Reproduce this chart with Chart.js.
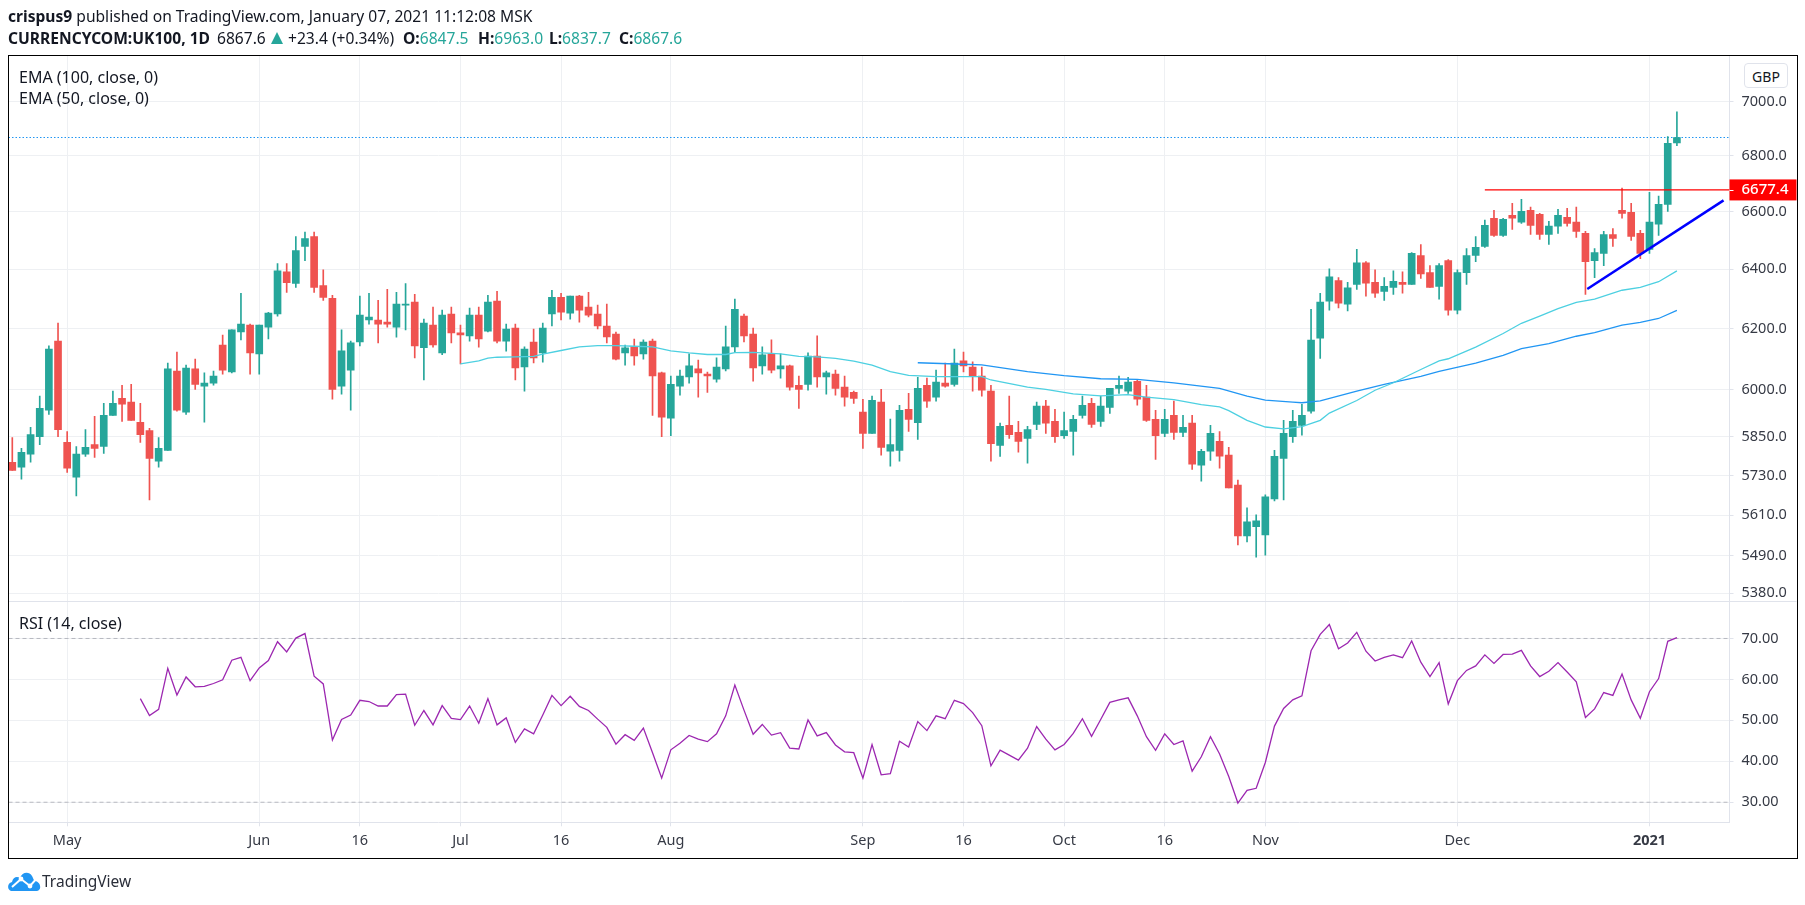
<!DOCTYPE html>
<html>
<head>
<meta charset="utf-8">
<title>UK100</title>
<script src="https://cdn.jsdelivr.net/npm/chart.js@4"></script>
<style>
    html, body { margin: 0; padding: 0; background: #fff; }
    body { width: 1805px; height: 905px; position: relative; overflow: hidden; font-family: "Noto Sans", sans-serif; color: #131722; }
    canvas { position: absolute; left: 0; top: 0; }
    .txt { position: absolute; white-space: nowrap; line-height: 20px; font-size: 15.6px; }
    .leg { font-size: 16px; }
    .b { font-weight: bold; }
    .teal { color: #26a69a; }
    #frame { position: absolute; left: 8px; top: 55px; width: 1788px; height: 802px; border: 1.5px solid #000; box-sizing: content-box; pointer-events: none; }
    #gbp { position: absolute; left: 1744px; top: 63px; width: 44px; height: 25px; line-height: 25px; text-align: center; border: 1px solid #e0e3eb; border-radius: 4px; box-sizing: border-box; font-size: 14px; background: #fff; }
    #tri { position: absolute; left: 271px; top: 32px; width: 0; height: 0; border-left: 6.5px solid transparent; border-right: 6.5px solid transparent; border-bottom: 12px solid #26a69a; }
</style>
</head>
<body>
<canvas id="chart" width="1805" height="905"></canvas>
<div id="frame"></div>

<div class="txt" style="left:8px;top:6px"><span class="b">crispus9</span> published on TradingView.com, January 07, 2021 11:12:08 MSK</div>
<div class="txt b" style="left:8px;top:28px">CURRENCYCOM:UK100, 1D</div>
<div class="txt" style="left:217px;top:28px">6867.6</div>
<div id="tri"></div>
<div class="txt" style="left:288px;top:28px">+23.4 (+0.34%)</div>
<div class="txt" style="left:403px;top:28px"><span class="b">O:</span><span class="teal">6847.5</span></div>
<div class="txt" style="left:478px;top:28px"><span class="b">H:</span><span class="teal">6963.0</span></div>
<div class="txt" style="left:549px;top:28px"><span class="b">L:</span><span class="teal">6837.7</span></div>
<div class="txt" style="left:619px;top:28px"><span class="b">C:</span><span class="teal">6867.6</span></div>

<div class="txt leg" style="left:19px;top:67px">EMA (100, close, 0)</div>
<div class="txt leg" style="left:19px;top:88px">EMA (50, close, 0)</div>
<div class="txt leg" style="left:19px;top:613px">RSI (14, close)</div>
<div id="gbp">GBP</div>

<svg style="position:absolute;left:8px;top:871px" width="33" height="20" viewBox="0 0 33 20">
    <path d="M3 20 C-1 19 -1 12 4 11 C5 6 9 5 12 7 C14 1 21 0 24 5 C26 9 26 10 27 10 C33 11 34 19 29 20 Z" fill="#2196f3"/>
    <polyline points="4,16 13,8 22,15 30,6" fill="none" stroke="#fff" stroke-width="2"/>
    <circle cx="13" cy="8" r="2.4" fill="#fff"/><circle cx="22" cy="15" r="2.4" fill="#fff"/>
</svg>
<div class="txt" style="left:42px;top:871px;font-size:15.5px;color:#2a2e39">TradingView</div>

<script>
const opens = [5771,5756,5796,5851,5934,6158,5833,5725,5796,5826,
    5820,5918,5972,5960,5896,5870,5774,5808,6060,5928,
    6067,6011,6021,6145,6057,6188,6211,6116,6204,6248,
    6391,6351,6478,6513,6344,6301,6011,6063,6155,6228,
    6228,6221,6204,6278,6288,6136,6211,6119,6248,6185,
    6175,6244,6191,6291,6158,6201,6073,6155,6119,6248,
    6304,6251,6308,6271,6248,6208,6181,6119,6139,6116,
    6158,6054,5909,6011,6041,6067,6050,6034,6067,6139,
    6241,6181,6077,6116,6067,6077,6014,6017,6109,6041,
    6050,6008,5991,5928,5861,5960,5805,5808,5937,5895,
    6014,5976,6021,6017,6093,6073,6044,5995,5823,5886,
    5864,5845,5889,5947,5899,5854,5867,5918,5956,5899,
    5943,6004,5995,6027,5976,5905,5861,5918,5864,5893,
    5762,5805,5836,5793,5701,5548,5575,5551,5659,5783,
    5851,5886,5931,6168,6291,6361,6281,6348,6422,6355,
    6324,6338,6355,6348,6447,6388,6341,6429,6261,6388,
    6447,6478,6577,6517,6587,6563,6605,6591,6520,6549,
    6580,6563,6524,6429,6454,6520,6605,6598,6524,6468,
    6556,6626,6847.5];
const closes = [5746,5802,5857,5940,6132,5873,5753,5796,5817,5814,
    5918,5956,5953,5902,5857,5783,5814,6067,5934,6070,
    6017,6021,6044,6063,6195,6214,6119,6211,6251,6394,
    6354,6464,6506,6338,6304,6001,6126,6152,6244,6238,
    6214,6214,6281,6281,6142,6218,6145,6244,6185,6178,
    6244,6165,6288,6158,6198,6070,6132,6103,6201,6304,
    6254,6308,6261,6244,6208,6172,6099,6136,6109,6155,
    6044,5912,6017,6044,6077,6054,6044,6073,6139,6264,
    6175,6070,6113,6063,6077,6008,6001,6109,6041,6054,
    6004,5976,5972,5861,5966,5817,5826,5934,5905,6004,
    5963,6024,6011,6086,6077,6044,5998,5829,5883,5857,
    5836,5873,5947,5893,5851,5870,5905,5950,5889,5947,
    6004,6014,6024,5969,5902,5854,5905,5864,5880,5765,
    5805,5861,5790,5692,5548,5590,5593,5665,5789,5861,
    5899,5918,6161,6288,6374,6284,6336,6422,6352,6318,
    6341,6358,6348,6454,6384,6338,6412,6261,6388,6447,
    6475,6552,6517,6573,6577,6601,6552,6520,6549,6587,
    6559,6531,6426,6457,6520,6506,6594,6513,6454,6563,
    6626,6846,6867.6];
const highs = [5848,5814,5880,5979,6142,6218,5867,5820,5873,5915,
    5956,5995,6014,6017,5956,5877,5848,6086,6122,6079,
    6099,6054,6060,6178,6195,6318,6214,6211,6254,6419,
    6419,6513,6528,6528,6398,6311,6195,6158,6308,6318,
    6294,6331,6321,6351,6314,6231,6271,6261,6271,6211,
    6268,6271,6311,6324,6214,6214,6139,6198,6218,6328,
    6318,6308,6311,6321,6278,6281,6188,6145,6165,6162,
    6165,6057,6044,6063,6116,6096,6057,6103,6208,6298,
    6248,6201,6139,6162,6116,6079,6044,6119,6175,6060,
    6063,6044,5995,5969,5979,6001,5906,5950,5988,6040,
    6037,6063,6086,6132,6122,6090,6073,6014,5893,5979,
    5899,5883,5960,5966,5937,5928,5918,5979,5972,5979,
    6004,6044,6040,6030,6014,5934,5937,5963,5918,5918,
    5811,5886,5867,5817,5716,5632,5611,5671,5808,5902,
    5934,5953,6264,6318,6401,6371,6355,6468,6426,6398,
    6371,6394,6391,6457,6485,6412,6419,6433,6398,6471,
    6513,6570,6605,6577,6630,6644,6616,6594,6566,6608,
    6612,6616,6531,6471,6531,6541,6684,6630,6534,6669,
    6655,6871,6963];
const lows = [5746,5719,5771,5826,5921,5851,5740,5668,5789,5786,
    5798,5918,5899,5902,5833,5656,5756,5808,5931,5921,
    6001,5896,6014,6050,6054,6162,6050,6050,6165,6241,
    6321,6338,6429,6321,6294,5969,5985,5934,6142,6214,
    6152,6204,6171,6195,6103,6031,6138,6113,6152,6083,
    6158,6138,6188,6152,6125,6031,5995,6086,6089,6208,
    6228,6231,6221,6238,6198,6152,6096,6079,6079,6099,
    5918,5851,5854,5982,6021,5976,5991,6024,6060,6122,
    6155,6027,6050,6054,6037,5998,5940,5998,6008,5985,
    5982,5947,5956,5814,5861,5793,5759,5774,5867,5842,
    5943,5963,6008,6011,6057,5995,5979,5774,5789,5845,
    5802,5768,5873,5861,5833,5845,5793,5909,5880,5883,
    5924,5988,5988,5950,5899,5780,5851,5842,5851,5749,
    5713,5777,5753,5692,5521,5530,5485,5491,5653,5656,
    5833,5855,5925,6101,6261,6268,6258,6331,6308,6304,
    6294,6314,6318,6348,6368,6338,6298,6244,6248,6348,
    6426,6475,6513,6513,6538,6559,6520,6503,6485,6524,
    6549,6510,6314,6371,6412,6478,6577,6499,6436,6454,
    6517,6601,6837.7];

// ema values were read every few bars, so they carry their own bar numbers
const ema50Bars = [49,51,52,53,55,57,58,60,62,64,66,68,70,72,74,76,78,79,81,84,86,88,90,92,94,96,98,101,104,106,107,111,113,116,119,122,124,127,130,132,133,135,137,139,141,143,144,147,149,151,154,156,157,160,163,165,167,169,171,173,176,178,180,182];
const ema50Values = [6083,6093,6102,6105,6106,6108,6115,6127,6139,6143,6143,6141,6139,6126,6119,6114,6114,6120,6121,6116,6108,6106,6101,6092,6079,6058,6046,6042,6042,6042,6031,6008,6001,5986,5980,5984,5976,5968,5952,5945,5933,5902,5881,5875,5882,5902,5925,5965,5998,6022,6065,6093,6100,6138,6183,6217,6241,6266,6287,6298,6328,6338,6357,6394];
const ema100Bars = [99,104,106,111,115,119,123,127,132,135,137,140,141,143,147,150,152,154,156,160,163,165,168,171,173,176,178,180,182];
const ema100Values = [6087,6082,6080,6058,6045,6035,6033,6022,6004,5979,5966,5960,5958,5964,5995,6017,6030,6043,6059,6086,6111,6133,6150,6174,6186,6211,6220,6233,6260];

const rsiStart = 14;
const rsiValues = [55.3,51.2,52.7,62.7,56.2,60.6,58.2,58.3,59,59.9,
    64.7,65.4,59.7,62.8,64.6,69.2,66.7,70.1,71.2,60.8,
    58.9,45.2,50.2,51.3,54.9,54.6,53.5,53.5,56.3,56.4,
    48.8,52.4,48.9,53.6,50.5,50.2,53.5,49.3,55.3,48.9,
    50.6,44.6,47.9,46.7,51.3,56.1,53.6,55.9,53.4,52.4,
    50.3,48.3,44.2,46.5,45.1,48.1,42.1,35.9,42.8,44.4,
    46.3,45.4,44.8,46.7,51.1,58.6,52.5,46.6,49,46.4,
    47,43.2,43,50.1,46.2,47,44,42.3,42.1,35.9,
    44.1,36.7,37,44.9,43.5,49.7,47.5,51.1,50.4,54.9,
    54.1,51.9,48.7,38.9,42.7,41.5,40.3,43.2,48.5,45.4,
    42.8,44.1,46.8,50.4,46.1,50.2,54.4,55,55.5,51.1,
    46,42.7,46.7,44.1,45,37.6,41.1,46,41.8,36.3,
    29.8,32.9,33.4,39.7,48.6,52.9,55,56,67,71,
    73.4,67.5,68.9,71.5,66.9,64.5,65.4,66,65.3,69.4,
    64.2,60.7,64.1,54,59.7,62.2,63.3,66,63.9,66.1,
    66.2,67.1,63.3,60.7,62,64.1,61.8,59.4,50.7,52.8,
    56.8,56.1,61.3,55,50.5,57,60.2,69.3,70.2];

const priceTicks = [5380,5490,5610,5730,5850,6000,6200,6400,6600,6800,7000];
const rsiTicks = [30,40,50,60,70];
const timeTickBars = [6,27,38,49,60,72,93,104,115,126,137,158,179];
const timeTickLabels = ["May","Jun","16","Jul","16","Aug","Sep","16","Oct","16","Nov","Dec","2021"];

const lastPrice = 6867.6;
const resistancePrice = 6677.4;
const resistanceBars = [161,187.75];
const trendBars = [172.2,187.1];
const trendPrices = [6332,6640];
const rsiBands = [70,30];

const UP = "#26a69a";
const DOWN = "#ef5350";
const GRID = "#eef0f3";
const AXIS = "#e0e3eb";
const FONT = '"Noto Sans", sans-serif';
const xMin = -0.415;
const xMax = 187.75;

const colors = opens.map((o, i) => closes[i] >= o ? UP : DOWN);
const toPoints = (xs, ys) => xs.map((x, i) => ({ x: x, y: ys[i] }));
const hLine = (v, label, axis, color, dash, order) => ({
    type: "line", label: label, yAxisID: axis,
    data: [{ x: xMin, y: v }, { x: xMax, y: v }],
    borderColor: color, borderWidth: 1, borderDash: dash, pointRadius: 0, order: order
});

// the red price tag and the line between the two panes
const extras = {
    id: "extras",
    afterDraw(chart) {
        const ctx = chart.ctx;
        const y = chart.scales.y;
        const rsi = chart.scales.rsi;
        ctx.save();
        ctx.strokeStyle = AXIS;
        ctx.lineWidth = 1;
        ctx.beginPath();
        ctx.moveTo(chart.chartArea.left, Math.round(rsi.top) + 0.5);
        ctx.lineTo(chart.chartArea.right + 67, Math.round(rsi.top) + 0.5);
        ctx.stroke();

        const py = y.getPixelForValue(resistancePrice);
        ctx.fillStyle = "#ff0000";
        ctx.fillRect(chart.chartArea.right, py - 10.5, 67, 21);
        ctx.fillStyle = "#fff";
        ctx.fillRect(chart.chartArea.right, Math.round(py), 4, 1);
        ctx.font = "500 15px " + FONT;
        ctx.textBaseline = "middle";
        ctx.fillText(resistancePrice.toFixed(1), chart.chartArea.right + 12, py);
        ctx.restore();
    }
};

new Chart(document.getElementById("chart"), {
    type: "bar",
    data: {
        datasets: [
            { label: "wicks", data: opens.map((o, i) => ({ x: i, y: [lows[i], highs[i]] })), backgroundColor: colors,
              barThickness: 1, grouped: false, order: 5 },
            { label: "bodies", data: opens.map((o, i) => ({ x: i, y: [o, closes[i]] })), backgroundColor: colors,
              barThickness: 7, grouped: false, order: 4 },
            hLine(lastPrice, "last", "y", "#2196f3", [1.5, 2], 6),
            { type: "line", label: "EMA 50", data: toPoints(ema50Bars, ema50Values), borderColor: "#4dd0e1", borderWidth: 1.3, pointRadius: 0, order: 3 },
            { type: "line", label: "EMA 100", data: toPoints(ema100Bars, ema100Values), borderColor: "#2196f3", borderWidth: 1.3, pointRadius: 0, order: 3 },
            { type: "line", label: "resistance", data: resistanceBars.map(x => ({ x: x, y: resistancePrice })), borderColor: "#ff0000", borderWidth: 1.3, pointRadius: 0, order: 2 },
            { type: "line", label: "trend", data: toPoints(trendBars, trendPrices), borderColor: "#0000ff", borderWidth: 2.5, pointRadius: 0, order: 1 },
            hLine(rsiBands[0], "band 70", "rsi", "#b7b9c0", [4, 3], 3),
            hLine(rsiBands[1], "band 30", "rsi", "#b7b9c0", [4, 3], 3),
            { type: "line", label: "RSI", yAxisID: "rsi", data: rsiValues.map((v, i) => ({ x: rsiStart + i, y: v })), borderColor: "#9c27b0", borderWidth: 1.3, pointRadius: 0, order: 1 }
        ]
    },
    options: {
        responsive: false,
        animation: false,
        devicePixelRatio: 1,
        layout: { padding: { left: 8.5, top: 55.5, right: 8, bottom: 47 } },
        plugins: { legend: { display: false }, title: { display: false }, tooltip: { enabled: false } },
        scales: {
            x: {
                type: "linear", min: xMin, max: xMax, offset: false,
                afterBuildTicks: (s) => { s.ticks = timeTickBars.map(v => ({ value: v })); },
                afterFit: (s) => { s.height = 35.7; },
                grid: { color: GRID, tickLength: 4, tickColor: AXIS, offset: false },
                border: { display: true, color: AXIS },
                ticks: {
                    autoSkip: false, maxRotation: 0, padding: 6, color: "#363a45",
                    font: (c) => ({ family: FONT, size: 14.5, weight: c.tick && c.tick.value === 179 ? "bold" : "normal" }),
                    callback: (v, i) => timeTickLabels[i]
                }
            },
            y: {
                type: "logarithmic", position: "right", stack: "panes", stackWeight: 545.5, weight: 0,
                min: 5357, max: 7176,
                afterBuildTicks: (s) => { s.ticks = priceTicks.map(v => ({ value: v })); },
                afterFit: (s) => { s.width = 67.5; },
                grid: { color: GRID, tickLength: 4, tickColor: AXIS },
                border: { display: true, color: AXIS },
                ticks: { padding: 8, color: "#363a45", font: { family: FONT, size: 14.5 }, callback: (v) => Number(v).toFixed(1) }
            },
            rsi: {
                type: "linear", position: "right", stack: "panes", stackWeight: 221, weight: 1,
                min: 25.1, max: 79.1,
                afterBuildTicks: (s) => { s.ticks = rsiTicks.map(v => ({ value: v })); },
                afterFit: (s) => { s.width = 67.5; },
                grid: { color: GRID, tickLength: 4, tickColor: AXIS },
                border: { display: true, color: AXIS },
                ticks: { padding: 8, color: "#363a45", font: { family: FONT, size: 14.5 }, callback: (v) => Number(v).toFixed(2) }
            }
        }
    },
    plugins: [extras]
});
</script>
</body>
</html>
